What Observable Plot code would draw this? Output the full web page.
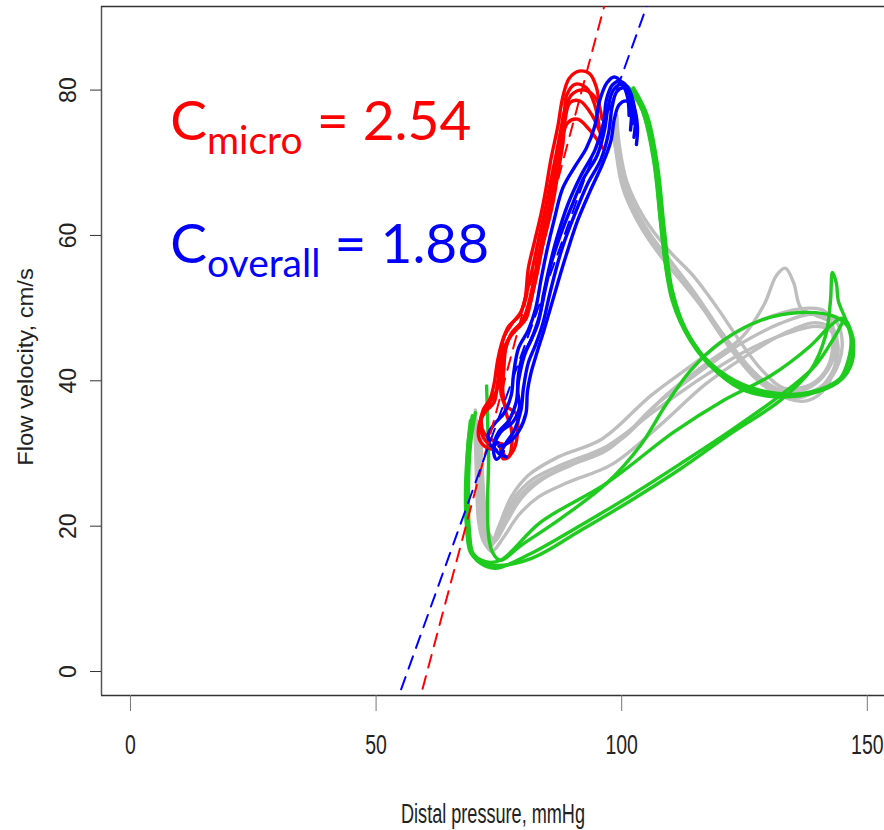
<!DOCTYPE html>
<html><head><meta charset="utf-8">
<script src="https://cdn.jsdelivr.net/npm/d3@7"></script>
<script src="https://cdn.jsdelivr.net/npm/@observablehq/plot@0.6"></script>
<style>body{margin:0;background:#fff;} #chart{position:relative;width:884px;height:830px;}</style>
</head><body><div id="chart"></div>
<script>
// Axis set-up
const xDomain = [-5.9, 153.5];
const yDomain = [-3.3, 91.5];
const xTicks = [0, 50, 100, 150];
const yTicks = [0, 20, 40, 60, 80];
const xLabel = "Distal pressure, mmHg";
const yLabel = "Flow velocity, cm/s";

// Fitted lines (slope = conductance, x-intercept = zero-flow pressure)
const fitNames = ["micro", "overall"];
const fitSlopes = [2.54, 1.88];
const fitXIntercepts = [60.4, 56.4];
const fitColors = ["#ff0000", "#0000ff"];

// Gray loops (pressure mmHg, velocity cm/s)
const grayCycles = [
  [[70.6,34.5],[71.0,30.4],[71.2,26.3],[71.6,21.5],[72.3,18.7],[73.3,17.3],[75.3,19.4],[77.8,22.8],[81.4,25.6],[87.5,27.9],[97.1,30.5],[107.3,36.9],[116.0,41.3],[124.2,45.1],[132.3,47.9],[139.0,49.2],[143.5,48.3],[144.9,44.8],[142.9,40.7],[138.4,38.4],[133.3,38.2],[128.2,40.3],[123.1,44.2],[118.1,48.6],[112.9,53.1],[107.9,57.2],[103.2,62.0],[100.1,66.8],[98.7,72.3],[98.1,75.8]],
  [[70.2,36.0],[70.6,31.0],[70.8,26.0],[71.2,21.0],[72.0,18.0],[73.5,16.5],[76.0,18.5],[79.0,21.5],[83.0,24.0],[89.0,26.0],[98.0,28.5],[108.0,34.0],[117.0,39.5],[125.5,43.5],[133.0,46.5],[139.5,48.0],[143.0,47.0],[144.0,43.5],[141.5,39.8],[137.0,37.8],[132.0,38.0],[127.0,40.5],[121.5,45.0],[116.5,50.0],[111.5,55.0],[106.0,59.5],[102.0,64.5],[99.5,69.5],[98.3,74.0],[97.8,77.0]],
  [[71.0,33.0],[71.4,29.0],[71.6,25.0],[72.0,21.0],[72.8,18.5],[74.0,17.8],[76.5,20.5],[79.5,23.8],[84.0,26.5],[91.0,28.8],[100.0,32.0],[109.0,38.0],[117.5,42.5],[124.5,46.0],[129.0,50.5],[131.5,54.5],[133.3,55.5],[135.0,53.5],[136.5,50.0],[139.5,49.0],[142.5,48.0],[143.5,45.0],[142.0,41.5],[138.0,39.0],[133.5,38.5],[129.0,40.0],[124.5,43.0],[120.0,47.0],[115.5,51.5],[110.5,56.0],[105.5,60.5],[101.5,65.5],[99.3,71.0],[98.5,75.5]],
  [[70.0,35.0],[70.3,30.0],[70.5,25.0],[70.9,20.5],[71.8,18.0],[73.0,17.0],[75.0,20.0],[77.5,24.0],[81.0,27.0],[87.0,29.5],[96.0,32.0],[106.0,38.0],[115.0,42.5],[123.0,46.5],[131.0,49.0],[138.0,50.0],[141.5,49.5],[143.0,46.5],[142.0,42.0],[138.5,39.5],[133.0,39.0],[128.5,41.5],[124.0,45.5],[119.5,50.0],[114.5,54.5],[109.5,58.0],[104.5,62.5],[101.0,67.5],[99.5,72.5],[99.0,76.5]],
  [[71.3,33.5],[71.5,29.5],[71.8,25.5],[72.3,21.5],[73.0,19.0],[74.2,18.2],[76.0,21.0],[78.5,24.2],[82.0,26.5],[88.0,28.5],[97.0,31.0],[107.0,36.0],[116.5,40.5],[125.0,44.0],[133.5,46.5],[140.0,47.5],[143.0,46.5],[143.5,42.5],[141.5,39.0],[138.0,37.3],[134.0,37.5],[129.5,39.5],[125.0,42.5],[120.5,46.5],[115.5,51.0],[110.0,55.5],[105.0,60.0],[101.5,65.0],[99.5,70.5],[98.8,74.5]]
];

// Green loops
const greenCycles = [
  [[69.6,35.2],[68.8,31.8],[68.4,26.3],[68.4,20.8],[69.2,16.6],[71.2,14.9],[74.3,14.2],[81.4,16.2],[91.6,20.1],[101.8,24.2],[112.0,28.6],[122.1,33.1],[132.3,38.0],[139.4,42.1],[143.5,46.2],[145.5,48.3],[147.2,44.8],[145.9,41.1],[141.5,38.9],[134.3,38.0],[126.2,38.7],[119.1,41.4],[114.0,45.5],[110.3,51.0],[108.3,59.3],[106.9,68.9],[104.8,76.5],[102.2,79.9],[100.1,80.7]],
  [[69.2,34.5],[68.6,30.4],[68.2,24.9],[68.4,20.1],[69.2,16.4],[70.8,15.3],[73.9,14.6],[81.4,15.5],[91.6,19.4],[101.8,23.5],[112.0,27.9],[122.1,32.7],[132.3,37.3],[138.4,41.4],[141.5,46.2],[142.5,51.0],[142.9,54.9],[143.7,53.4],[144.1,51.0],[145.5,48.6],[147.0,45.5],[146.6,42.1],[143.5,39.8],[136.4,38.2],[128.2,38.4],[121.1,40.3],[116.0,43.9],[112.0,48.6],[109.3,55.2],[107.9,63.4],[106.3,71.7],[103.8,77.9],[101.2,80.5]],
  [[72.5,39.3],[72.7,34.5],[72.9,29.0],[72.7,23.5],[72.9,18.7],[73.7,16.4],[75.3,15.3],[79.4,17.3],[87.5,21.0],[97.1,26.0],[103.8,31.1],[108.9,36.6],[114.0,41.4],[120.1,45.3],[128.2,48.3],[136.4,49.4],[143.5,48.8],[146.6,46.9],[147.0,43.5],[144.9,40.3],[139.4,38.4],[131.3,37.8],[124.2,38.9],[118.1,42.1],[113.6,46.2],[110.3,52.4],[108.7,60.7],[107.3,69.6],[105.2,76.5],[102.4,80.3]],
  [[70.2,35.6],[69.2,31.1],[68.8,24.9],[69.0,19.4],[69.8,16.2],[72.3,15.1],[75.3,15.3],[83.4,20.5],[97.1,26.0],[110.5,32.9],[120.7,37.3],[130.3,40.7],[138.4,44.8],[142.5,47.6],[144.9,48.6],[146.6,46.2],[146.1,42.8],[144.1,40.0],[138.8,38.4],[130.3,38.4],[123.1,40.0],[117.0,43.1],[112.4,47.6],[109.5,53.8],[107.9,62.0],[106.5,70.3],[104.2,77.2],[101.4,80.3]]
];

// Red segments (microcirculatory part)
const redSegments = [
  [[95.5,77.5],[94.8,80.5],[93.4,82.3],[91.3,82.6],[89.3,81.6],[88.0,79.0],[87.0,75.0],[85.6,70.5],[84.6,66.5],[83.6,63.0],[82.2,59.0],[81.0,55.5],[80.3,51.2],[79.2,49.0],[77.0,47.5],[75.8,45.5],[75.2,42.3],[74.6,38.8],[73.0,36.8],[71.5,35.0],[72.0,32.8],[74.3,31.6],[76.3,31.2]],
  [[95.5,74.5],[94.5,78.0],[92.8,80.3],[90.5,80.8],[88.8,79.3],[88.3,76.5],[87.5,73.0],[86.2,68.5],[85.3,64.5],[84.2,61.0],[83.0,57.0],[82.0,53.5],[81.0,50.5],[79.8,48.2],[78.0,46.8],[76.5,44.8],[76.0,41.5],[75.8,38.5],[76.5,35.5],[77.5,33.5],[77.6,31.0],[77.0,29.5],[75.8,29.3],[75.3,31.0]],
  [[96.0,73.5],[94.0,76.5],[91.5,78.5],[89.5,78.3],[88.5,76.0],[88.0,72.5],[87.0,68.5],[86.0,64.5],[84.8,61.0],[83.5,57.5],[82.5,54.0],[81.5,51.0],[80.5,48.5],[78.8,47.2],[77.0,45.8],[75.5,43.5],[74.8,40.0],[74.0,37.0],[72.3,35.8],[71.0,34.0],[71.0,32.0],[72.5,30.8],[74.5,30.5]],
  [[96.2,72.0],[93.5,74.5],[91.0,76.0],[89.0,75.5],[87.8,73.0],[87.2,70.0],[86.2,66.5],[85.0,62.5],[84.0,59.0],[83.0,55.5],[82.0,52.5],[81.0,49.8],[79.5,48.0],[77.5,46.5],[76.2,44.0],[75.5,41.0],[75.5,38.0],[76.5,36.5],[78.5,35.5],[78.8,33.0],[78.0,30.5],[76.5,29.5],[75.5,31.0]],
  [[96.0,76.0],[94.8,78.8],[92.5,80.0],[90.0,79.5],[88.5,77.5],[87.6,74.5],[86.6,71.0],[85.4,67.0],[84.4,63.5],[83.2,59.8],[82.0,56.0],[80.8,52.5],[79.5,49.5],[77.8,48.0],[76.0,46.0],[74.8,43.0],[74.0,39.5],[73.2,37.5],[71.8,36.0],[71.2,34.0],[72.0,32.0],[73.5,31.0]]
];

// Blue segments (overall part)
const blueSegments = [
  [[102.2,75.4],[102.4,77.9],[101.4,80.2],[99.7,81.2],[98.1,80.7],[96.9,78.7],[96.3,75.5],[94.6,71.8],[91.6,68.1],[89.0,64.2],[86.7,59.4],[85.3,55.7],[84.1,51.9],[83.0,48.0],[81.4,45.4],[79.6,42.9],[78.8,38.8],[79.2,36.4],[77.8,34.3],[75.3,32.9],[73.9,30.5],[74.5,29.2],[75.9,30.3]],
  [[102.5,73.5],[102.8,76.5],[102.0,79.0],[100.5,80.3],[99.0,79.8],[98.0,77.5],[97.3,74.0],[95.8,70.5],[93.0,67.0],[90.5,63.0],[88.0,58.5],[86.5,55.0],[85.2,51.5],[84.0,48.0],[82.5,45.0],[81.0,42.5],[80.0,39.0],[79.5,36.0],[78.0,33.0],[76.5,31.5],[75.5,30.0],[76.5,29.5]],
  [[101.5,76.5],[101.2,79.0],[100.0,81.0],[98.5,81.8],[97.0,81.0],[95.5,78.5],[94.5,75.0],[92.8,72.0],[90.5,69.5],[88.0,66.5],[86.2,62.0],[84.8,58.0],[83.6,54.0],[82.5,50.0],[81.0,47.0],[79.0,44.5],[78.0,41.0],[77.5,38.0],[76.0,35.5],[74.0,34.0],[72.8,32.5],[73.5,31.0],[74.8,31.5]],
  [[103.0,72.5],[103.2,75.0],[102.5,77.5],[101.0,78.5],[99.5,78.0],[98.5,76.0],[97.8,73.0],[96.2,70.0],[93.5,66.0],[91.0,62.0],[88.8,57.5],[87.0,53.5],[85.5,50.0],[84.2,47.0],[82.8,44.0],[81.5,41.0],[80.8,38.5],[80.5,35.5],[79.0,33.0],[77.0,31.5],[75.0,31.0]],
  [[101.8,74.5],[102.0,77.5],[101.5,79.8],[100.0,80.8],[98.3,80.0],[97.2,77.5],[96.5,74.5],[95.0,71.0],[92.2,67.8],[89.8,64.0],[87.5,60.0],[85.8,56.5],[84.5,52.8],[83.3,49.0],[81.8,46.0],[80.2,43.5],[79.0,40.0],[78.5,37.0],[77.0,34.5],[75.0,33.0],[74.0,31.0],[75.0,30.0]]
];

// Annotation anchors (data units: left edge, baseline)
const annLabels = [["C", "micro", " = 2.54"], ["C", "overall", " = 1.88"]];
const annX = [8.2, 8.2];
const annY = [73.0, 56.2];

const toRows = (cycles) => cycles.flatMap((c, i) => c.map(([x, y]) => ({x, y, k: i})));
const fitRows = fitSlopes.flatMap((s, i) =>
  [yDomain[0] - 2, yDomain[1] + 2].map(y => ({x: fitXIntercepts[i] + y / s, y, k: fitNames[i], c: fitColors[i]})));

const lineOpts = (color) => ({x: "x", y: "y", z: "k", stroke: color, strokeWidth: 3.4, curve: "catmull-rom", strokeLinejoin: "round", strokeLinecap: "round"});

const plot = Plot.plot({
  width: 884, height: 830,
  marginLeft: 101, marginRight: 0, marginTop: 6, marginBottom: 135,
  x: {domain: xDomain},
  y: {domain: yDomain},
  style: {fontFamily: "'Liberation Sans', Arial, sans-serif", color: "#222", background: "white", overflow: "visible"},
  marks: [
    Plot.ruleX([xDomain[0]], {stroke: "#555", strokeWidth: 1.5}),
    Plot.ruleY([yDomain[0], yDomain[1]], {stroke: "#333", strokeWidth: 1.5}),
    Plot.axisX({ticks: xTicks, tickSize: 16, tickPadding: 23, fontSize: 27, label: null, stroke: "#777"}),
    Plot.axisY({ticks: yTicks, tickSize: 11, tickPadding: 15, tickRotate: -90, fontSize: 23, label: null, stroke: "#333"}),
    Plot.line(toRows(grayCycles), lineOpts("#bebebe")),
    Plot.line(toRows(greenCycles), lineOpts("#1ecb1e")),
    Plot.line(toRows(redSegments), lineOpts("#ff0000")),
    Plot.line(toRows(blueSegments), lineOpts("#0000ff")),
    Plot.line(fitRows, {x: "x", y: "y", z: "k", stroke: "c", strokeWidth: 2, strokeDasharray: "13,9", clip: true}),
    Plot.text([xLabel], {frameAnchor: "bottom", dy: 127, fontSize: 27, fill: "#222"}),
    Plot.text([yLabel], {frameAnchor: "left", textAnchor: "middle", lineAnchor: "middle", dx: -76, dy: 16, rotate: -90, fontSize: 22, fill: "#222"})
  ]
});

document.getElementById("chart").appendChild(plot);

// condense / stretch the axis texts like the original
const svg = d3.select(plot);
const condense = (sel, f) => sel.each(function() {
  const w = this.getComputedTextLength();
  d3.select(this).attr("textLength", w * f).attr("lengthAdjust", "spacingAndGlyphs");
});
condense(svg.selectAll('g[aria-label="x-axis tick label"] text'), 0.72);
condense(svg.selectAll("text").filter(function() { return this.textContent === xLabel; }), 0.67);
condense(svg.selectAll("text").filter(function() { return this.textContent === yLabel; }), 1.08);

// annotations with subscripts
const sx = plot.scale("x"), sy = plot.scale("y");
annLabels.forEach((parts, i) => {
  const t = svg.append("text")
    .attr("x", sx.apply(annX[i])).attr("y", sy.apply(annY[i]))
    .attr("text-anchor", "start")
    .attr("fill", fitColors[i])
    .attr("font-family", "Lato, 'Open Sans', sans-serif")
    .attr("font-size", 55);
  t.append("tspan").text(parts[0]);
  t.append("tspan").attr("font-size", 39).attr("dy", 14).text(parts[1]);
  t.append("tspan").attr("dy", -14).text(parts[2]);
});
</script></body></html>
